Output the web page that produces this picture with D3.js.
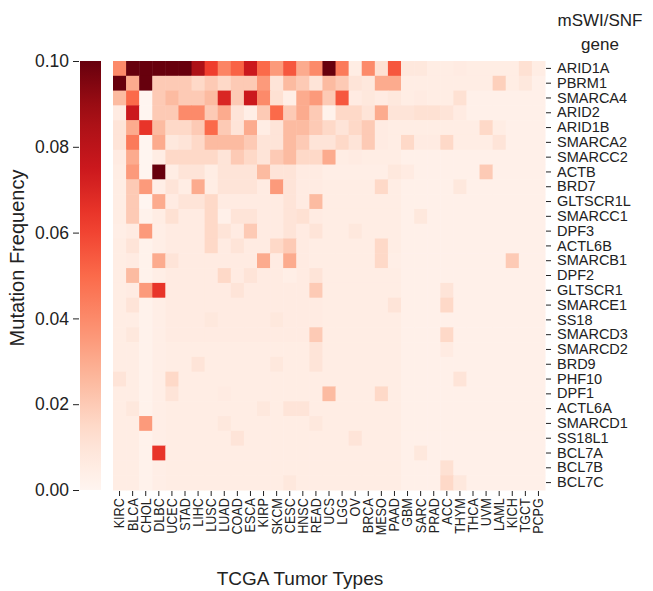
<!DOCTYPE html>
<html><head><meta charset="utf-8">
<script src="https://cdn.jsdelivr.net/npm/d3@7"></script>
<style>body{margin:0;background:#fff}</style>
</head><body><svg id="c" width="653" height="591"></svg>
<script>
const tumorTypes=["KIRC","BLCA","CHOL","DLBC","UCEC","STAD","LIHC","LUSC","LUAD","COAD","ESCA","KIRP","SKCM","CESC","HNSC","READ","UCS","LGG","OV","BRCA","MESO","PAAD","GBM","SARC","PRAD","ACC","THYM","THCA","UVM","LAML","KICH","TGCT","PCPG"];
const genes=["ARID1A","PBRM1","SMARCA4","ARID2","ARID1B","SMARCA2","SMARCC2","ACTB","BRD7","GLTSCR1L","SMARCC1","DPF3","ACTL6B","SMARCB1","DPF2","GLTSCR1","SMARCE1","SS18","SMARCD3","SMARCD2","BRD9","PHF10","DPF1","ACTL6A","SMARCD1","SS18L1","BCL7A","BCL7B","BCL7C"];
const colorbarTicks=[0,0.02,0.04,0.06,0.08,0.10];
// mutation frequency x 1000, one row per gene, columns follow tumorTypes
const freqPerMille=[
[40,100,100,100,100,100,85,62,42,52,75,50,35,55,30,40,100,45,5,40,12,55,8,8,5,5,6,5,5,5,5,12,5],
[100,30,100,20,20,20,15,20,15,20,20,35,10,25,20,10,25,20,10,8,30,30,5,5,5,5,5,5,5,18,5,8,3],
[25,50,0,20,25,20,20,25,70,20,75,40,12,4,30,35,20,55,6,8,6,8,5,6,5,5,12,3,3,3,3,3,3],
[6,75,0,20,20,40,40,20,30,10,4,20,50,20,30,20,2,15,15,10,30,10,10,12,12,10,6,3,3,3,3,3,3],
[10,30,65,25,15,15,20,50,20,10,30,5,10,25,25,20,15,10,15,20,6,5,5,5,5,5,5,5,15,5,3,3,3],
[10,45,0,30,8,10,15,25,25,25,20,10,10,25,20,10,10,15,10,20,6,5,15,6,6,15,5,5,5,10,3,3,3],
[6,30,0,5,15,15,15,15,10,20,15,10,20,25,15,15,30,5,6,5,5,5,3,3,3,3,3,3,3,3,3,3,3],
[5,35,0,100,5,10,10,5,10,10,10,25,10,10,6,6,4,4,4,4,4,8,6,3,3,3,3,3,20,3,3,3,3],
[5,20,35,4,10,5,30,5,10,10,10,6,35,10,6,6,5,5,5,5,15,5,3,3,3,3,8,3,3,3,3,3,3],
[5,20,0,30,6,10,10,15,6,6,6,6,6,10,6,25,5,5,5,5,5,5,3,3,3,3,3,3,3,3,3,3,3],
[5,20,2,5,12,6,6,15,3,10,10,6,6,10,12,6,5,5,5,5,5,5,3,8,3,3,3,3,3,3,3,3,3],
[4,6,35,4,6,6,6,15,10,6,20,6,6,10,6,10,5,5,8,5,5,5,3,3,3,3,3,3,3,3,3,3,3],
[5,10,2,4,6,6,6,15,6,10,6,6,15,20,6,5,5,5,5,5,15,5,3,3,3,3,3,3,3,3,3,3,3],
[5,6,2,30,10,6,6,6,6,6,6,30,6,30,6,5,5,5,5,5,15,4,3,3,3,3,3,3,3,3,20,3,3],
[5,25,2,4,6,6,6,6,15,6,10,6,6,4,6,10,5,5,5,5,5,5,3,3,3,3,3,3,3,3,3,3,3],
[5,6,35,65,6,6,6,6,6,10,6,6,6,6,6,20,5,5,5,5,5,5,3,3,3,10,3,3,3,3,3,3,3],
[5,10,2,4,6,6,6,6,6,6,6,6,6,6,6,6,5,5,5,5,5,10,3,3,3,15,3,3,3,3,3,3,3],
[5,5,2,4,6,6,6,8,6,6,6,6,8,6,6,6,5,5,5,5,5,5,3,3,3,3,3,3,3,3,3,3,3],
[5,8,2,4,6,6,6,6,6,6,6,6,6,6,6,20,5,5,5,5,5,5,3,3,3,15,3,3,3,3,3,3,3],
[5,5,2,4,5,5,5,5,5,5,5,5,5,5,5,10,5,5,5,5,5,5,3,3,3,6,3,3,3,3,3,3,3],
[5,5,2,4,5,5,10,5,5,5,5,5,8,5,5,10,5,5,5,5,5,5,3,3,3,3,3,3,3,3,3,3,3],
[10,5,2,4,15,5,5,5,5,5,5,5,5,5,5,5,5,5,5,5,5,5,3,3,3,3,10,3,3,3,3,3,3],
[5,5,2,4,10,5,5,5,6,5,5,5,5,5,5,5,25,5,5,5,15,5,3,3,3,3,3,3,3,3,3,3,3],
[5,8,2,4,5,5,5,5,5,5,5,8,5,10,10,5,5,5,5,5,5,5,3,3,3,3,3,3,3,3,3,3,3],
[5,5,35,4,5,5,5,5,8,5,5,5,5,5,5,8,5,5,5,5,5,5,3,3,3,3,3,3,3,3,3,3,3],
[5,5,2,4,5,5,5,5,5,10,5,5,5,5,5,5,5,5,10,5,5,5,3,3,3,3,3,3,3,3,3,3,3],
[5,5,2,65,5,5,5,5,5,5,5,5,5,5,5,5,5,5,5,5,5,5,3,8,3,3,3,3,3,3,3,3,3],
[5,5,2,4,5,5,5,5,5,5,5,5,5,5,5,5,5,5,5,5,5,5,3,3,3,12,3,3,3,3,3,3,3],
[5,5,2,4,5,5,5,5,5,5,5,5,5,8,5,5,5,5,5,5,5,5,3,3,3,15,8,3,3,3,3,3,3]
];

const svg=d3.select("#c");
const FONT="'Liberation Sans', Arial, sans-serif";
const reds=["#fff5f0","#fee0d2","#fcbba1","#fc9272","#fb6a4a","#ef3b2c","#cb181d","#a50f15","#67000d"];
const vmax=0.10;
const color=d3.scaleLinear().domain(reds.map((_,i)=>i/(reds.length-1)*vmax)).range(reds).clamp(true);

const L=113,R=545,T=61,B=490;
const x=d3.scaleBand().domain(tumorTypes).range([L,R]);
const y=d3.scaleBand().domain(genes).range([T,B]);

const cells=[];
genes.forEach((g,i)=>tumorTypes.forEach((t,j)=>cells.push({g,t,v:freqPerMille[i][j]/1000})));
svg.append("g").selectAll("rect").data(cells).join("rect")
 .attr("x",d=>x(d.t)).attr("y",d=>y(d.g))
 .attr("width",x.bandwidth()+0.5).attr("height",y.bandwidth()+0.5)
 .attr("fill",d=>color(d.v));

// right gene axis
const ya=svg.append("g").attr("transform",`translate(${R+1},0)`)
 .call(d3.axisRight(y).tickSize(5).tickPadding(6));
ya.select(".domain").remove();
ya.selectAll("text").attr("font-family",FONT).attr("font-size",14.5).attr("fill","#222");
ya.selectAll("line").attr("stroke","#222");

// bottom axis
const xa=svg.append("g").attr("transform",`translate(0,${B+1})`)
 .call(d3.axisBottom(x).tickSize(5).tickPadding(2));
xa.select(".domain").remove();
xa.selectAll("line").attr("stroke","#222");
xa.selectAll("text").attr("font-family",FONT).attr("font-size",14).attr("fill","#222")
 .attr("transform","rotate(-90) scale(0.9,1)").attr("text-anchor","end").attr("x",-8).attr("y",0)
 .attr("dy","0.35em");

// colorbar
const cbX=80,cbW=21;
const cy=d3.scaleLinear().domain([0,vmax]).range([B,T]);
const grad=svg.append("defs").append("linearGradient").attr("id","cb").attr("x1",0).attr("x2",0).attr("y1",1).attr("y2",0);
d3.range(0,1.0001,0.05).forEach(s=>grad.append("stop").attr("offset",s).attr("stop-color",color(s*vmax)));
svg.append("rect").attr("x",cbX).attr("y",T).attr("width",cbW).attr("height",B-T).attr("fill","url(#cb)");
const ca=svg.append("g").attr("transform",`translate(${cbX-1},0)`)
 .call(d3.axisLeft(cy).tickValues(colorbarTicks).tickFormat(d3.format(".2f")).tickSize(6).tickPadding(4));
ca.select(".domain").remove();
ca.selectAll("line").attr("stroke","#222");
ca.selectAll("text").attr("font-family",FONT).attr("font-size",17.5).attr("fill","#222");

svg.append("text").attr("transform","translate(24,258) rotate(-90)").attr("text-anchor","middle")
 .attr("font-family",FONT).attr("font-size",20).attr("fill","#222").text("Mutation Frequency");
svg.append("text").attr("x",300).attr("y",585).attr("text-anchor","middle")
 .attr("font-family",FONT).attr("font-size",19).attr("fill","#222").text("TCGA Tumor Types");
svg.append("text").attr("x",600).attr("y",26).attr("text-anchor","middle")
 .attr("font-family",FONT).attr("font-size",17).attr("fill","#222").text("mSWI/SNF");
svg.append("text").attr("x",600).attr("y",50).attr("text-anchor","middle")
 .attr("font-family",FONT).attr("font-size",17).attr("fill","#222").text("gene");
</script></body></html>
